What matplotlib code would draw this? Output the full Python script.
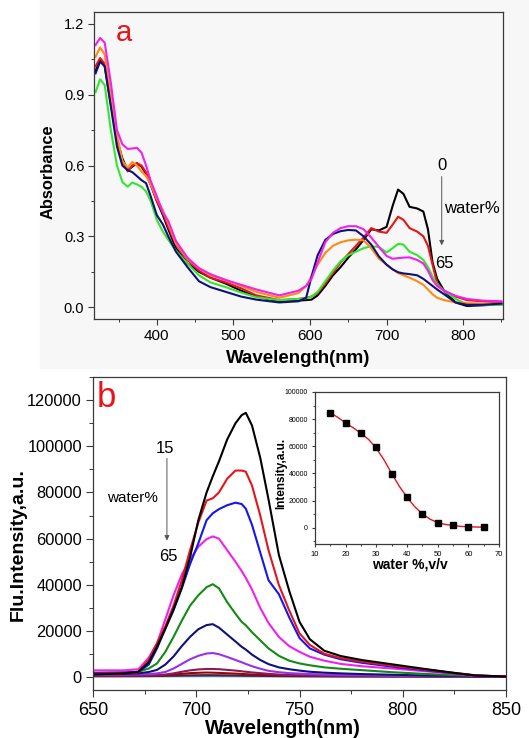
import matplotlib
matplotlib.use("Agg")
import matplotlib.pyplot as plt
from matplotlib.patches import Rectangle
from matplotlib.ticker import MultipleLocator

plt.rcParams["font.family"] = ["Liberation Sans", "DejaVu Sans"]

# ---- panel a: absorbance vs wavelength at different water %
wl_a = [320, 326, 332, 340, 348, 355, 362, 368, 374, 380, 386, 392, 400, 408, 415,
        425, 440, 455, 470, 490, 510, 530, 560, 585, 595, 602, 610, 620, 630, 640,
        650, 660, 670, 680, 690, 700, 708, 715, 722, 730, 740, 748, 754, 760, 766,
        775, 790, 805, 825, 850]

abs_black = [1.00, 1.05, 1.02, 0.86, 0.71, 0.63, 0.58, 0.595, 0.61, 0.595, 0.565, 0.52, 0.45, 0.39, 0.33,
             0.25, 0.185, 0.15, 0.125, 0.10, 0.07, 0.045, 0.025, 0.028, 0.03, 0.032, 0.05, 0.09, 0.135, 0.17,
             0.21, 0.245, 0.285, 0.33, 0.325, 0.34, 0.43, 0.498, 0.48, 0.425, 0.418, 0.405, 0.33, 0.19, 0.12,
             0.07, 0.02, 0.005, 0.008, 0.012]
abs_red = [1.02, 1.055, 1.03, 0.87, 0.71, 0.62, 0.575, 0.60, 0.61, 0.60, 0.57, 0.52, 0.45, 0.40, 0.34,
           0.265, 0.20, 0.155, 0.125, 0.105, 0.08, 0.05, 0.03, 0.035, 0.04, 0.045, 0.06, 0.10, 0.145, 0.19,
           0.225, 0.26, 0.295, 0.335, 0.32, 0.315, 0.35, 0.383, 0.37, 0.335, 0.32, 0.30, 0.26, 0.18, 0.10,
           0.07, 0.045, 0.03, 0.025, 0.02]
abs_green = [0.91, 0.965, 0.94, 0.75, 0.60, 0.53, 0.51, 0.528, 0.52, 0.51, 0.49, 0.45, 0.37, 0.32, 0.285,
             0.24, 0.185, 0.135, 0.105, 0.085, 0.062, 0.042, 0.03, 0.035, 0.038, 0.045, 0.065, 0.11, 0.155, 0.195,
             0.22, 0.235, 0.25, 0.258, 0.255, 0.232, 0.25, 0.268, 0.265, 0.235, 0.22, 0.20, 0.17, 0.13, 0.095,
             0.07, 0.035, 0.012, 0.01, 0.01]
abs_magenta = [1.11, 1.14, 1.12, 0.95, 0.75, 0.69, 0.67, 0.672, 0.675, 0.655, 0.60, 0.535, 0.47, 0.40, 0.365,
               0.28, 0.21, 0.165, 0.14, 0.115, 0.095, 0.075, 0.05, 0.07, 0.09, 0.12, 0.19, 0.275, 0.315, 0.335,
               0.343, 0.343, 0.33, 0.295, 0.255, 0.217, 0.205, 0.208, 0.21, 0.211, 0.20, 0.185, 0.155, 0.115, 0.09,
               0.07, 0.048, 0.035, 0.028, 0.025]
abs_orange = [1.06, 1.10, 1.07, 0.90, 0.73, 0.62, 0.59, 0.615, 0.60, 0.575, 0.555, 0.52, 0.46, 0.41, 0.355,
              0.27, 0.205, 0.165, 0.135, 0.115, 0.09, 0.065, 0.04, 0.06, 0.09, 0.13, 0.18, 0.23, 0.26, 0.275,
              0.283, 0.286, 0.283, 0.25, 0.205, 0.18, 0.16, 0.145, 0.135, 0.125, 0.11, 0.095, 0.075, 0.055, 0.04,
              0.03, 0.02, 0.017, 0.015, 0.015]
abs_navy = [0.99, 1.04, 1.02, 0.85, 0.68, 0.60, 0.58, 0.572, 0.555, 0.538, 0.525, 0.47, 0.39, 0.35, 0.30,
            0.235, 0.17, 0.11, 0.085, 0.065, 0.045, 0.032, 0.02, 0.025, 0.04, 0.13, 0.22, 0.285, 0.31, 0.322,
            0.327, 0.325, 0.30, 0.265, 0.215, 0.18, 0.16, 0.148, 0.143, 0.14, 0.135, 0.12, 0.105, 0.09, 0.075,
            0.055, 0.02, 0.01, 0.01, 0.015]

series_a = [
    (abs_black, "black"),
    (abs_red, "#e8141a"),
    (abs_green, "#33e62e"),
    (abs_orange, "#ff8a14"),
    (abs_navy, "#10107a"),
    (abs_magenta, "#f020f0"),
]

# ---- panel b: fluorescence spectra, water 15% .. 65%
wl_b = [650, 665, 672, 677, 681, 685, 689, 693, 697, 701, 705, 708, 711, 715, 719, 722,
        724, 727, 731, 735, 740, 745, 750, 755, 762, 770, 780, 795, 810, 825, 835, 850]

fl_15 = [1200, 1700, 2400, 6500, 13300, 21000, 29500, 39000, 52000, 68000, 80000, 87000, 93500, 103000, 110000, 113500,
         114500, 109000, 95000, 77000, 53000, 37500, 24000, 16500, 11500, 9200, 7500, 5600, 3700, 1900, 800, 300]
fl_20 = [1500, 1800, 2200, 7500, 14700, 22000, 31000, 42000, 55000, 67000, 76500, 77500, 80000, 86000, 89500, 89500,
         89000, 83000, 70000, 55000, 40000, 29000, 19000, 14000, 10200, 8300, 6800, 5000, 3400, 1900, 900, 300]
fl_25 = [1800, 2000, 2300, 5500, 12500, 21000, 29000, 38500, 49000, 58000, 68000, 71000, 72800, 74500, 75600, 75000,
         73000, 66000, 54000, 42000, 36000, 26000, 17000, 12500, 9800, 7800, 6300, 4600, 3100, 1700, 800, 300]
fl_30 = [3000, 3000, 3500, 8500, 14700, 25000, 35500, 44500, 51000, 56500, 59800, 61000, 60000, 55000, 50000, 46000,
         43000, 38000, 30000, 23500, 17500, 13500, 11000, 8900, 7200, 5800, 4800, 3800, 2700, 1500, 700, 300]
fl_35 = [2000, 2100, 2400, 3800, 6000, 11000, 17500, 24500, 31000, 35500, 39000, 40300, 38500, 32500, 27500, 24000,
         22500, 19500, 16000, 12500, 9300, 7200, 6000, 5200, 4300, 3700, 3100, 2200, 1500, 900, 600, 300]
fl_40 = [1500, 1500, 1700, 2300, 3200, 5500, 9000, 13500, 17500, 20800, 22600, 23000, 21500, 18500, 15500, 13200,
         12000, 9800, 7500, 5700, 4300, 3500, 2900, 2400, 2000, 1700, 1400, 1100, 800, 600, 400, 300]
fl_45 = [1200, 1200, 1300, 1400, 1700, 2300, 3800, 5800, 7800, 9300, 10300, 10500, 10000, 8800, 7500, 6500,
         5800, 4800, 3700, 2800, 2200, 1800, 1600, 1400, 1200, 1000, 900, 700, 600, 500, 400, 300]
fl_50 = [700, 700, 750, 800, 900, 1200, 1700, 2400, 3000, 3400, 3600, 3600, 3500, 3200, 2900, 2600,
         2400, 2100, 1800, 1500, 1200, 1000, 900, 800, 700, 650, 600, 550, 500, 450, 400, 300]
fl_55 = [600, 600, 650, 700, 750, 900, 1200, 1500, 1800, 1950, 2050, 2000, 1900, 1750, 1600, 1450,
         1350, 1200, 1050, 900, 800, 700, 650, 600, 550, 500, 480, 450, 420, 400, 350, 300]
fl_60 = [500, 500, 520, 550, 600, 650, 720, 800, 860, 900, 920, 920, 900, 850, 800, 750,
         720, 680, 630, 580, 540, 510, 490, 470, 450, 430, 410, 390, 370, 350, 320, 300]
fl_65 = [400, 400, 400, 400, 420, 430, 440, 450, 460, 470, 480, 480, 470, 460, 450, 440,
         430, 420, 410, 400, 390, 380, 370, 360, 350, 340, 330, 320, 310, 300, 300, 300]

series_b = [
    (fl_65, "#3d8fc4"),
    (fl_60, "#5a1a3a"),
    (fl_55, "#8b0a0a"),
    (fl_50, "#8b1a5a"),
    (fl_45, "#9a30e8"),
    (fl_40, "#10107a"),
    (fl_35, "#138a13"),
    (fl_30, "#f020f0"),
    (fl_25, "#1515f0"),
    (fl_20, "#e8141a"),
    (fl_15, "black"),
]

# ---- inset: peak intensity vs water %
water = [15, 20, 25, 30, 35, 40, 45, 50, 55, 60, 65]
peak_int = [84800, 77000, 69800, 59400, 39900, 22700, 10200, 3300, 1800, 600, 400]
fit_water = [15, 17.5, 20, 22.5, 25, 27.5, 30, 32.5, 35, 37.5, 40, 42.5, 45, 47.5,
             50, 52.5, 55, 57.5, 60, 62.5, 65]
fit_int = [84800, 81200, 77200, 73600, 69500, 65000, 58500, 50000, 40000, 30500, 22500,
           15500, 10200, 6300, 3800, 2400, 1600, 1000, 700, 500, 400]

W, H = 529, 738
fig = plt.figure(figsize=(W / 100, H / 100), dpi=100)
fig.patch.set_facecolor("white")
fig.patches.append(Rectangle((40 / W, 1 - 368 / H), 489 / W, 368 / H,
                             transform=fig.transFigure, color="#f7f7f7", zorder=-10))

spine_c = "#3a3a3a"


def style_axes(ax, lab_size, major_len, minor_len):
    for s in ax.spines.values():
        s.set_color(spine_c)
        s.set_linewidth(0.9)
    ax.tick_params(which="major", direction="out", length=major_len, width=0.8,
                   color=spine_c, labelsize=lab_size, pad=2.5, top=False, right=False)
    ax.tick_params(which="minor", direction="out", length=minor_len, width=0.7,
                   color=spine_c, top=False, right=False)


# panel a
ax_a = fig.add_axes([94 / W, 1 - 319 / H, 409 / W, 307 / H])
ax_a.set_facecolor("none")
for y, c in series_a:
    ax_a.plot(wl_a, y, color=c, lw=1.5)
ax_a.set_xlim(318, 852)
ax_a.set_ylim(-0.05, 1.25)
ax_a.xaxis.set_major_locator(MultipleLocator(100))
ax_a.xaxis.set_minor_locator(MultipleLocator(50))
ax_a.yaxis.set_major_locator(MultipleLocator(0.3))
ax_a.yaxis.set_minor_locator(MultipleLocator(0.15))
ax_a.yaxis.set_major_formatter(matplotlib.ticker.FormatStrFormatter("%.1f"))
style_axes(ax_a, 11, 4.5, 2.5)
ax_a.tick_params(axis="y", labelsize=10.5)
ax_a.set_xlabel("Wavelength(nm)", fontsize=13.5, fontweight="bold")
ax_a.set_ylabel("Absorbance", fontsize=11.8, fontweight="bold")
ax_a.xaxis.set_label_coords(0.5, -0.1)
ax_a.yaxis.set_label_coords(-0.095, 0.48)
ax_a.text(0.052, 0.93, "a", transform=ax_a.transAxes, color="#e8141a",
          fontsize=21, ha="left", va="center")
ax_a.text(772, 0.60, "0", fontsize=12, ha="center", va="center")
ax_a.annotate("", xy=(772, 0.25), xytext=(772, 0.565),
              arrowprops=dict(arrowstyle="-|>", color="#555555", lw=0.7, mutation_scale=7))
ax_a.text(775, 0.42, "water%", fontsize=12, ha="left", va="center")
ax_a.text(775, 0.186, "65", fontsize=12, ha="center", va="center")

# panel b
ax_b = fig.add_axes([93 / W, 1 - 690 / H, 413 / W, 313 / H])
for y, c in series_b:
    ax_b.plot(wl_b, y, color=c, lw=1.5)
ax_b.set_xlim(650, 850)
ax_b.set_ylim(-5500, 130000)
ax_b.xaxis.set_major_locator(MultipleLocator(50))
ax_b.xaxis.set_minor_locator(MultipleLocator(25))
ax_b.yaxis.set_major_locator(MultipleLocator(20000))
ax_b.yaxis.set_minor_locator(MultipleLocator(10000))
style_axes(ax_b, 13, 5, 3)
ax_b.tick_params(axis="x", pad=3.5)
ax_b.tick_params(axis="y", labelsize=11.8, pad=3)
ax_b.set_xlabel("Wavelength(nm)", fontsize=14.5, fontweight="bold")
ax_b.set_ylabel("Flu.Intensity,a.u.", fontsize=14, fontweight="bold")
ax_b.xaxis.set_label_coords(0.46, -0.093)
ax_b.yaxis.set_label_coords(-0.16, 0.466)
ax_b.text(0.008, 0.935, "b", transform=ax_b.transAxes, color="#e8141a",
          fontsize=25, ha="left", va="center")
ax_b.text(685, 99100, "15", fontsize=12, ha="center", va="center")
ax_b.annotate("", xy=(685.8, 58000), xytext=(685.8, 96000),
              arrowprops=dict(arrowstyle="-|>", color="#555555", lw=0.7, mutation_scale=7))
ax_b.text(669, 77500, "water%", fontsize=11, ha="center", va="center")
ax_b.text(686.6, 52200, "65", fontsize=12, ha="center", va="center")

# inset
ax_in = fig.add_axes([315 / W, 1 - 544 / H, 184 / W, 152 / H])
ax_in.plot(fit_water, fit_int, color="#e8141a", lw=1.0)
ax_in.plot(water, peak_int, ls="none", marker="s", ms=4.5, color="black")
ax_in.set_xlim(10, 70)
ax_in.set_ylim(-12000, 100000)
ax_in.xaxis.set_major_locator(MultipleLocator(10))
ax_in.xaxis.set_minor_locator(MultipleLocator(5))
ax_in.yaxis.set_major_locator(MultipleLocator(20000))
ax_in.yaxis.set_minor_locator(MultipleLocator(10000))
style_axes(ax_in, 5.5, 2.5, 1.5)
ax_in.tick_params(axis="y", labelsize=5)
ax_in.set_xlabel("water %,v/v", fontsize=10, fontweight="bold")
ax_in.set_ylabel("Intensity,a.u.", fontsize=8.5, fontweight="bold")
ax_in.xaxis.set_label_coords(0.516, -0.09)
ax_in.yaxis.set_label_coords(-0.15, 0.467)

fig.savefig("out.png", dpi=100)
